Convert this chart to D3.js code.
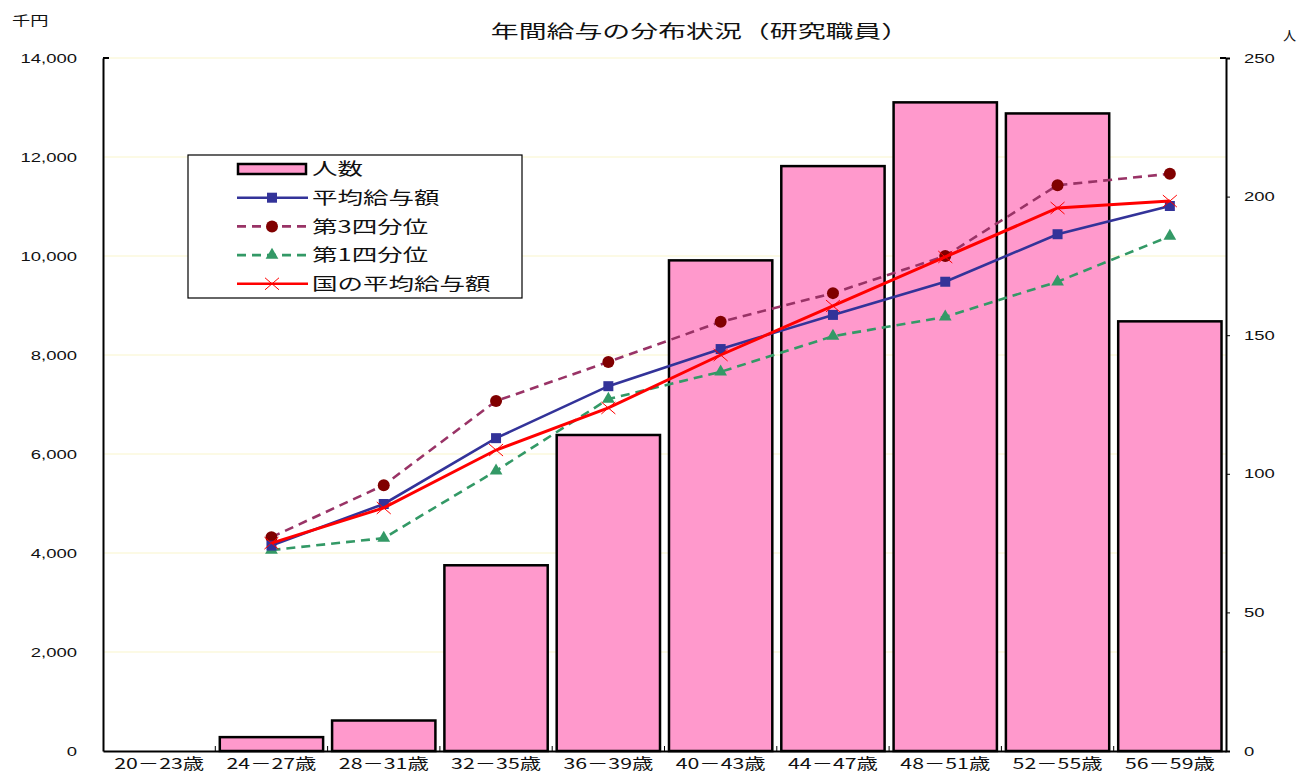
<!DOCTYPE html>
<html><head><meta charset="utf-8">
<script src="https://cdn.jsdelivr.net/npm/d3@7"></script>
<style>body{margin:0;background:#fff;font-family:"Noto Sans CJK JP",sans-serif;}</style>
</head><body><svg id="c" width="1301" height="775"></svg>
<script>
const categories = ["20－23歳","24－27歳","28－31歳","32－35歳","36－39歳","40－43歳","44－47歳","48－51歳","52－55歳","56－59歳"];
const headcount = [0,5,11,67,114,177,211,234,230,155];
const avgSalary = [null,4150,4990,6320,7370,8120,8810,9480,10440,11010];
const q3Salary = [null,4320,5370,7070,7860,8670,9250,10000,11430,11660];
const q1Salary = [null,4060,4300,5660,7110,7660,8380,8770,9480,10400];
const natAvgSalary = [null,4200,4910,6080,6930,8000,8990,9980,10970,11110];
const leftTicks = [0,2000,4000,6000,8000,10000,12000,14000];
const rightTicks = [0,50,100,150,200,250];

const svg = d3.select("#c");
const L=103, R=1226, T=58, B=751;
const x = d3.scaleBand().domain(categories).range([L,R]).paddingInner(0.08).paddingOuter(0.04);
const yL = d3.scaleLinear().domain([0,14000]).range([B,T]);
const yR = d3.scaleLinear().domain([0,250]).range([B,T]);
const cx = c => x(c)+x.bandwidth()/2;
const font = '"Noto Sans CJK JP",sans-serif';
function stretch(sel,k){ sel.each(function(){ const w=this.getComputedTextLength(); d3.select(this).attr("textLength",w*k).attr("lengthAdjust","spacingAndGlyphs");}); }

// gridlines
svg.append("g").selectAll("line").data(leftTicks.slice(1)).join("line")
  .attr("x1",L).attr("x2",R).attr("y1",d=>yL(d)).attr("y2",d=>yL(d))
  .attr("stroke","#fbf8dc").attr("stroke-width",1.5);

// bars
svg.append("g").selectAll("rect").data(categories.map((c,i)=>({c,v:headcount[i]})).filter(d=>d.v>0)).join("rect")
  .attr("x",d=>x(d.c)).attr("width",x.bandwidth())
  .attr("y",d=>yR(d.v)).attr("height",d=>B-yR(d.v))
  .attr("fill","#ff99cc").attr("stroke","#000").attr("stroke-width",2.5);

// axes
const gL = svg.append("g").attr("transform",`translate(${L},0)`).call(d3.axisLeft(yL).tickValues(leftTicks).tickFormat(d3.format(",")).tickSize(0).tickPadding(26));
const gR = svg.append("g").attr("transform",`translate(${R},0)`).call(d3.axisRight(yR).tickValues(rightTicks).tickSize(4).tickPadding(14));
[gL,gR].forEach(g=>{g.select(".domain").attr("stroke","#000").attr("stroke-width",2);
  g.selectAll("text").attr("font-family","Liberation Sans, Arial, sans-serif").attr("font-size",13).attr("fill","#111");
  stretch(g.selectAll("text"),1.42);});
svg.append("line").attr("x1",L).attr("x2",L+6).attr("y1",T).attr("y2",T).attr("stroke","#000").attr("stroke-width",2);
svg.append("line").attr("x1",R-6).attr("x2",R).attr("y1",T).attr("y2",T).attr("stroke","#000").attr("stroke-width",2);

const gB = svg.append("g").attr("transform",`translate(0,${B})`).call(d3.axisBottom(x).tickSize(0).tickPadding(7));
gB.select(".domain").attr("stroke","#000").attr("stroke-width",2);
gB.selectAll("text").attr("font-family",font).attr("font-size",15).attr("fill","#111");
stretch(gB.selectAll("text"),1.42);
// small category separator ticks
svg.append("g").selectAll("line").data(categories.slice(1)).join("line")
  .attr("x1",d=>x(d)-x.step()*0.04).attr("x2",d=>x(d)-x.step()*0.04).attr("y1",B).attr("y2",B-5)
  .attr("stroke","#000").attr("stroke-width",1);

// lines
const series = [
  {name:"平均給与額",data:avgSalary,color:"#333399",dash:null,marker:"square",mcolor:"#333399"},
  {name:"第3四分位",data:q3Salary,color:"#993366",dash:"9,6",marker:"circle",mcolor:"#800000"},
  {name:"第1四分位",data:q1Salary,color:"#339966",dash:"9,6",marker:"triangle",mcolor:"#339966"},
  {name:"国の平均給与額",data:natAvgSalary,color:"#ff0000",dash:null,marker:"cross",mcolor:"#ff0000"}
];
const line = d3.line().defined(d=>d.v!=null).x(d=>cx(d.c)).y(d=>yL(d.v));
function marker(g,type,color,px,py){
  if(type==="square") g.append("rect").attr("x",px-5).attr("y",py-5).attr("width",10).attr("height",10).attr("fill",color);
  else if(type==="circle") g.append("circle").attr("cx",px).attr("cy",py).attr("r",6).attr("fill",color);
  else if(type==="triangle") g.append("path").attr("d",d3.symbol(d3.symbolTriangle,70)()).attr("transform",`translate(${px},${py})`).attr("fill",color);
  else g.append("path").attr("d",`M${px-7},${py-6}L${px+7},${py+6}M${px-7},${py+6}L${px+7},${py-6}`).attr("stroke",color).attr("stroke-width",1);
}
const draw = [series[2],series[1],series[0],series[3]];
draw.forEach(s=>{
  const pts = categories.map((c,i)=>({c,v:s.data[i]}));
  svg.append("path").datum(pts).attr("d",line).attr("fill","none").attr("stroke",s.color)
    .attr("stroke-width",s.name==="国の平均給与額"?3:2.6).attr("stroke-dasharray",s.dash);
  const g = svg.append("g");
  pts.filter(d=>d.v!=null).forEach(d=>marker(g,s.marker,s.mcolor,cx(d.c),yL(d.v)));
});

// legend
const lg = svg.append("g");
lg.append("rect").attr("x",188).attr("y",155).attr("width",334).attr("height",143).attr("fill","#fff").attr("stroke","#000").attr("stroke-width",1.2);
const ly0=169, ldy=28.7;
lg.append("rect").attr("x",238).attr("y",ly0-5).attr("width",68).attr("height",10).attr("fill","#ff99cc").attr("stroke","#000").attr("stroke-width",2.5);
const lt=[lg.append("text").attr("x",312).attr("y",ly0).attr("dy","0.36em").text("人数")];
series.forEach((s,i)=>{
  const yy = ly0+ldy*(i+1);
  lg.append("line").attr("x1",237).attr("x2",308).attr("y1",yy).attr("y2",yy).attr("stroke",s.color).attr("stroke-width",2.6).attr("stroke-dasharray",s.dash);
  marker(lg,s.marker,s.mcolor,272,yy);
  lt.push(lg.append("text").attr("x",312).attr("y",yy).attr("dy","0.36em").text(s.name));
});
lt.forEach(t=>{t.attr("font-family",font).attr("font-size",17).attr("fill","#111"); stretch(t,1.5);});

// titles
const tt = svg.append("text").attr("x",700).attr("y",38).attr("text-anchor","middle").text("年間給与の分布状況（研究職員）").attr("font-family",font).attr("font-size",18).attr("fill","#111");
stretch(tt,1.55);
stretch(svg.append("text").attr("x",12).attr("y",25).text("千円").attr("font-family",font).attr("font-size",13).attr("fill","#111"),1.4);
svg.append("text").attr("x",1283).attr("y",40).text("人").attr("font-family",font).attr("font-size",13).attr("fill","#111");
</script></body></html>
